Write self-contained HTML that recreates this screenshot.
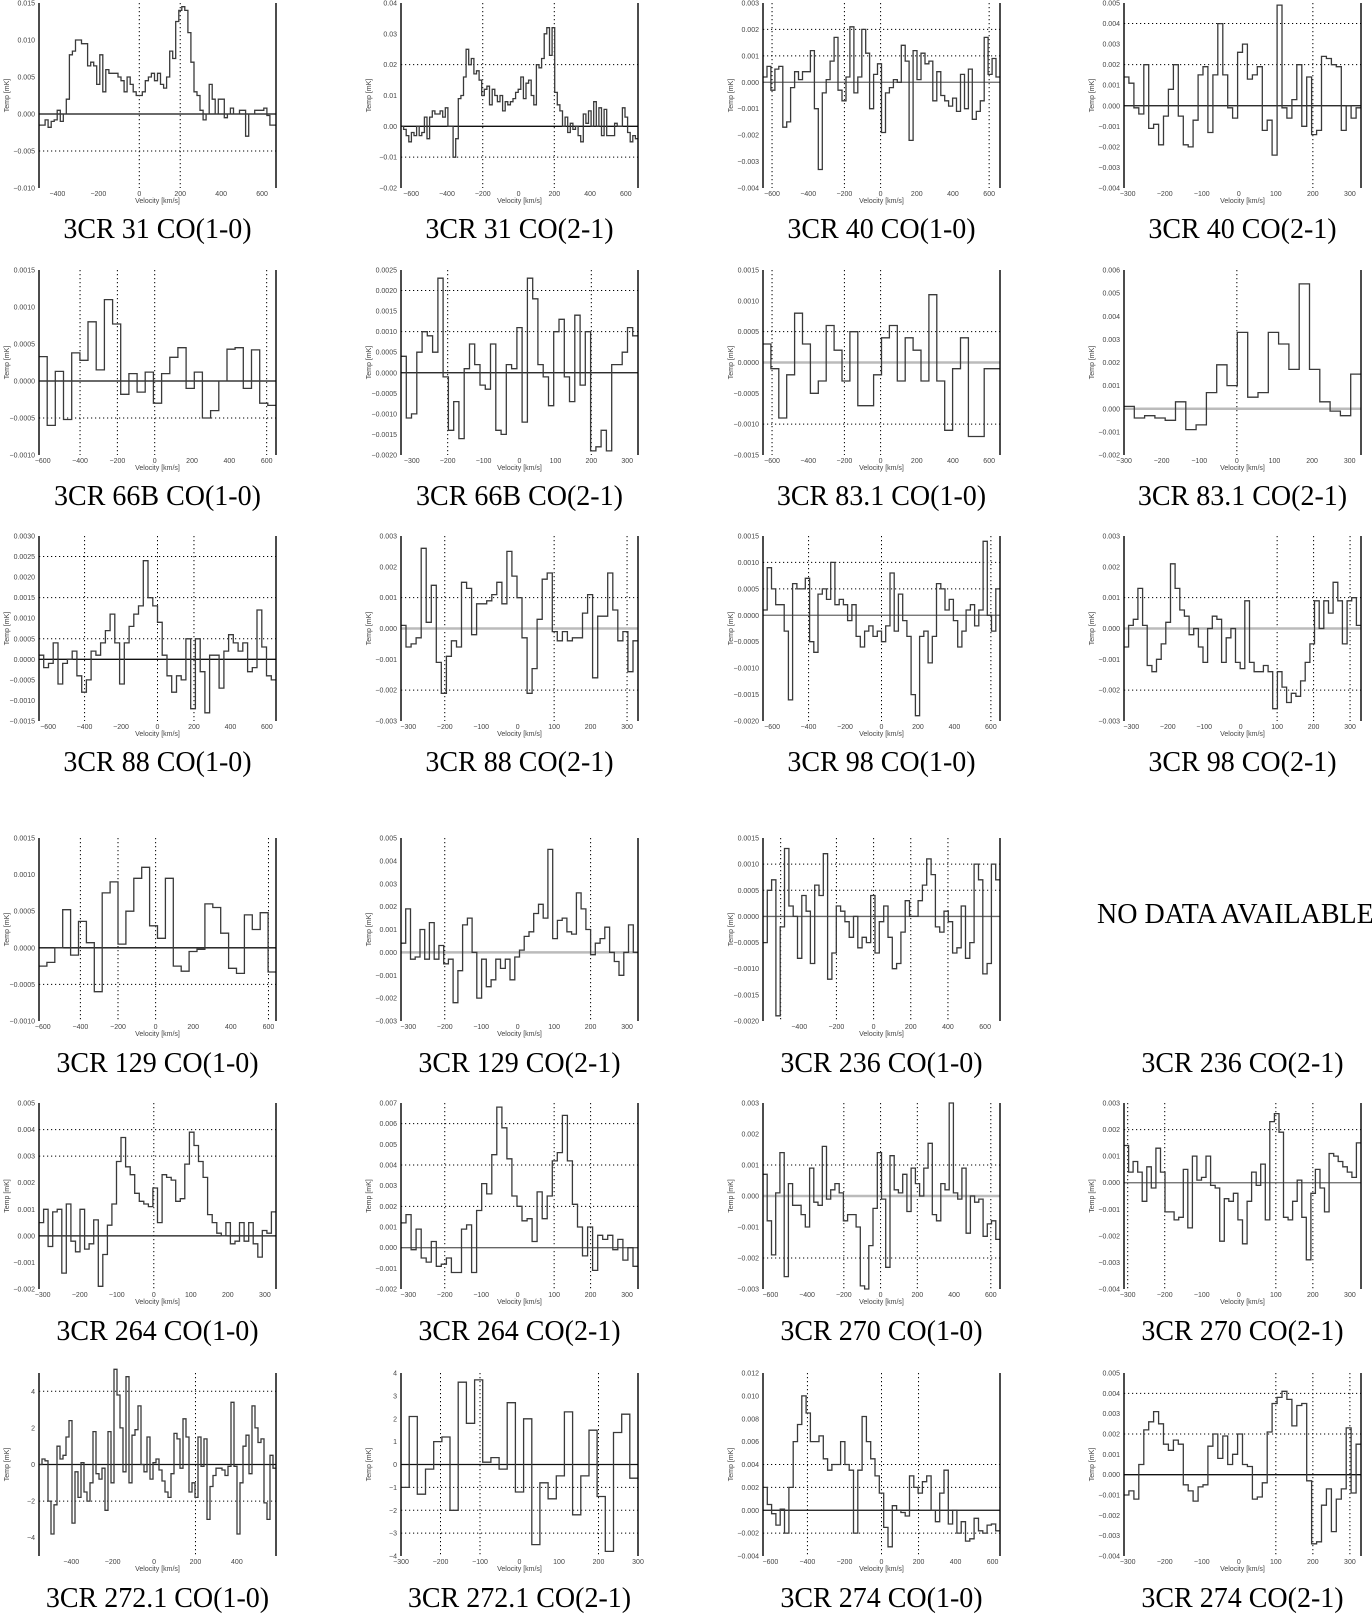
<!DOCTYPE html>
<html><head><meta charset="utf-8">
<style>
html,body{margin:0;padding:0;background:#fff;}
body{width:1372px;height:1613px;position:relative;overflow:hidden;font-family:"Liberation Serif",serif;}
.title{position:absolute;font-family:"Liberation Serif",serif;font-size:28px;color:#000;white-space:nowrap;transform:translate(-50%,-50%);}
svg{position:absolute;left:0;top:0;}
</style></head>
<body>
<svg id="fig" width="1372" height="1613"></svg>
<div style="position:absolute;left:1097px;top:899px;font-size:28px;white-space:nowrap;font-family:'Liberation Serif',serif;">NO DATA AVAILABLE</div>
<script>
const titles=["3CR 31 CO(1-0)","3CR 31 CO(2-1)","3CR 40 CO(1-0)","3CR 40 CO(2-1)","3CR 66B CO(1-0)","3CR 66B CO(2-1)","3CR 83.1 CO(1-0)","3CR 83.1 CO(2-1)","3CR 88 CO(1-0)","3CR 88 CO(2-1)","3CR 98 CO(1-0)","3CR 98 CO(2-1)","3CR 129 CO(1-0)","3CR 129 CO(2-1)","3CR 236 CO(1-0)","3CR 236 CO(2-1)","3CR 264 CO(1-0)","3CR 264 CO(2-1)","3CR 270 CO(1-0)","3CR 270 CO(2-1)","3CR 272.1 CO(1-0)","3CR 272.1 CO(2-1)","3CR 274 CO(1-0)","3CR 274 CO(2-1)"];
const xRanges=[[-490,668],[-657,668],[-650,660],[-310,330],[-620,650],[-330,330],[-650,660],[-300,330],[-650,650],[-320,330],[-650,650],[-320,330],[-620,640],[-320,330],[-595,680],null,[-310,330],[-320,330],[-640,650],[-310,330],[-556,589],[-300,300],[-640,640],[-310,330]];
const yRanges=[[-0.010,0.015],[-0.02,0.04],[-0.004,0.003],[-0.004,0.005],[-0.001,0.0015],[-0.002,0.0025],[-0.0015,0.0015],[-0.002,0.006],[-0.0015,0.003],[-0.003,0.003],[-0.002,0.0015],[-0.003,0.003],[-0.001,0.0015],[-0.003,0.005],[-0.002,0.0015],null,[-0.002,0.005],[-0.002,0.007],[-0.003,0.003],[-0.004,0.003],[-5,5],[-4,4],[-0.004,0.012],[-0.004,0.005]];
const yTickSteps=[0.005,0.01,0.001,0.001,0.0005,0.0005,0.0005,0.001,0.0005,0.001,0.0005,0.001,0.0005,0.001,0.0005,null,0.001,0.001,0.001,0.001,2,1,0.002,0.001];
const yTickDecimals=[3,2,3,3,4,4,4,3,4,3,4,3,4,3,4,0,3,3,3,3,0,0,3,3];
const xTickSteps=[200,200,200,100,200,100,200,100,200,100,200,100,200,100,200,null,100,100,200,100,200,100,200,100];
const hGrids=[[-0.005],[0.02,-0.01],[0.002,0.001],[0.004,0.002],[-0.0005],[0.002,0.001],[0.0005,-0.001],[],[0.0025,0.0015,0.0005],[0.001,-0.002],[0.001,0.0005],[0.001,-0.002],[-0.0005],[],[0.001,0.0005],null,[0.004,0.003],[0.006,0.004,0.002],[0.001,-0.002],[0.002],[4,-2],[-1,-2,-3],[0.004,0.002,-0.002],[0.004,0.002]];
const vGrids=[[0,200],[-200,200],[-600,-200,0,600],[200],[-400,-200,0,600],[-200,200],[-600,-200,0],[0],[-400,0,200],[-200,100,300],[-400,0,600],[100,200,300],[-400,-200,0,600],[-200,200],[-500,-200,0,200,400],null,[0],[-200,100,200],[-200,0,200,600],[-300,-200,100,200],[200],[-200,-100,200],[-400,0,200],[100,200,300]];
const zeroStyles=["k","k","g","k","k","k","lg","lg","k","lg","g","lg","k","lg","g",null,"k","g","lg","g","k","k","k","k"];

const p01=[-0.0015,-0.0015,-0.0008,-0.0018,-0.001,-0.0008,0.0005,-0.001,0.0,0.002,0.008,0.0085,0.010,0.010,0.0095,0.0095,0.0065,0.007,0.0065,0.004,0.008,0.003,0.006,0.0055,0.0055,0.0055,0.005,0.0045,0.003,0.005,0.004,0.003,0.0025,0.0025,0.003,0.0045,0.005,0.0055,0.0045,0.0055,0.004,0.0035,0.005,0.0085,0.0075,0.0125,0.014,0.0145,0.014,0.011,0.007,0.003,0.0025,0.0005,-0.0008,0,0.004,0.002,0,0.002,0.002,-0.0005,0,0.0008,0,0,0.0005,0.0005,-0.003,0,0,0.0005,0.0005,0.0005,0.0008,-0.0002,-0.0015,-0.0015];
const p02=[0,-0.001,-0.003,-0.005,-0.002,-0.003,0,-0.003,-0.002,0.003,-0.004,0.003,0.005,0.004,0.004,0.005,0.003,0.006,0,0,-0.01,-0.004,0.009,0.010,0.016,0.025,0.02,0.022,0.017,0.018,0.015,0.01,0.012,0.013,0.007,0.012,0.01,0.008,0.01,0.005,0.008,0.007,0.008,0.009,0.011,0.012,0.016,0.009,0.014,0.015,0.01,0.007,0.02,0.019,0.022,0.03,0.032,0.023,0.032,0.011,0.007,0.005,0,0.003,-0.002,0.001,-0.001,0,-0.003,-0.005,0.004,0.001,0.005,0,0.008,0,0.006,-0.003,0.0055,-0.003,-0.003,-0.003,0.001,0,0,0.006,0.003,-0.002,-0.005,-0.003,-0.004];
const p03=[0.0002,0.0006,-0.0003,0.0005,0.0006,-0.0017,-0.0015,-0.0002,0.0004,0.0001,0.0004,0.0004,0.0012,-0.001,-0.0033,-0.0004,0.0001,0.0008,0.0017,-0.0003,-0.0007,0.0002,0.0021,-0.0004,0.0002,0.002,0.0011,-0.001,0.0003,0.0007,-0.0019,-0.0004,-0.0002,0.0001,0,0.0014,0.0008,-0.0022,0.0012,0.0001,0.0011,0.0007,0.0008,-0.0007,0.0004,-0.0005,-0.0007,-0.0009,-0.0006,-0.0011,0.0003,-0.001,0.0005,-0.0014,-0.0011,-0.0007,0.0017,0.0003,0.0009,0.0002];
const p04=[0.0014,0.0011,-0.0001,-0.0004,0.002,-0.0011,-0.0009,-0.0019,-0.0005,0.0008,0.002,-0.0005,-0.0019,-0.002,-0.0007,0.0015,0.0019,-0.0013,0.0015,0.004,0.0015,-0.0001,-0.0006,0.0026,0.003,0.0013,0.0015,0.0019,-0.0012,-0.0007,-0.0024,0.0049,-0.0001,-0.0006,0.0003,0.002,-0.001,0.0014,-0.0014,-0.0012,0.0024,0.0023,0.002,0.0019,-0.0012,0,-0.0006,-0.0001];
const p05=[0.00033,-0.0006,0.00013,-0.00052,0.00038,0.00028,0.0008,0.00015,0.0011,0.00077,-0.00018,0.0001,-0.00015,0.00012,-0.0003,0.0001,0.00032,0.00045,-0.0001,0.00012,-0.0005,-0.0004,0,0.00043,0.00045,-0.0001,0.00042,-0.0003,-0.00033];
const p06=[0.0004,-0.0011,-0.001,0.0005,0.001,0.0009,0.0005,0.0023,-0.0001,-0.0014,-0.0007,-0.0016,0.0001,0.0007,0.0002,-0.0003,-0.0004,0.0007,-0.0014,-0.0015,0.0002,0.0001,0.0011,-0.0012,0.0023,0.0018,0.0002,-0.0001,-0.0008,0.001,0.0013,-0.0001,-0.0007,0.0014,-0.0003,0.001,-0.0019,-0.0018,-0.0014,-0.0019,0.0002,0.0002,0.0005,0.0011,0.0009];
const p07=[0.0003,-0.0001,-0.0009,-0.0002,0.0008,0.0003,-0.0005,-0.0003,0.0006,0.0002,-0.0003,0.0005,-0.0007,-0.0007,-0.0002,0.0004,0.0006,-0.0003,0.0004,0.0002,-0.0003,0.0011,-0.0003,-0.0011,-0.0001,0.0004,-0.0012,-0.0012,-0.0001,-0.0001];
const p08=[0.0001,-0.0004,-0.0003,-0.0004,-0.0005,0.0003,-0.0009,-0.0007,0.0007,0.0019,0.0010,0.0033,0.0005,0.0007,0.0033,0.0028,0.0017,0.0054,0.0017,0.0003,-0.0001,-0.0003,0.0015];
const p09=[0.0001,-0.0002,-0.0001,0.0004,-0.0006,-0.0001,0,0.0002,-0.0004,-0.0008,-0.0005,0.0002,0.0001,0.0004,0.0007,0.0011,0.0004,-0.0006,0.0004,0.0008,0.0011,0.0013,0.0024,0.0015,0.0013,0.0009,0.0001,-0.0004,-0.0008,-0.0004,-0.0005,0.0005,-0.0012,0.0005,-0.0003,-0.0013,0.0001,0.0001,-0.0007,0.0002,0.0006,0.0004,0.0002,0.0004,-0.0003,-0.0002,0.0012,0.0003,-0.0004,-0.0005];
const p10=[0.0001,-0.0006,-0.0005,-0.0003,0.0026,0.0002,0.0014,-0.0011,-0.0021,-0.0009,-0.0004,-0.0006,0.0015,0.0013,-0.0002,0.0008,0.0008,0.0009,0.0011,0.0015,0.0008,0.0025,0.0017,0.001,-0.0003,-0.0021,-0.0013,0.0003,0.0016,0.0018,-0.0001,-0.0004,-0.0001,-0.0004,-0.0003,-0.0003,0.0005,0.0011,-0.0016,0.0004,0.0004,0.0018,0.0006,-0.0004,-0.0001,-0.0014,-0.0004];
const p11=[0.0001,0.0009,0.0005,0.0002,0.0002,-0.0003,-0.0016,0.0006,0.0005,0.0005,0.0007,-0.0005,-0.0007,0.0004,0.0005,0.0003,0.0010,0.0002,0.0003,0.0002,-0.0001,0.0002,-0.0004,-0.0006,-0.0003,-0.0002,-0.0004,-0.0003,-0.0005,-0.0002,0.0008,-0.0003,0.0004,-0.0001,-0.0004,-0.0015,-0.0019,-0.0004,-0.0003,-0.0009,-0.0004,0.0006,0.0005,0.0001,0.0003,-0.0001,-0.0006,-0.0003,0.0001,0.0002,-0.0002,0.0001,0.0014,0,-0.0003,0.0005];
const p12=[-0.0006,0.0001,0.0003,0.0013,0.0001,-0.0012,-0.0014,-0.001,-0.0005,0.0002,0.0021,0.0013,0.0006,0.0004,-0.0002,0,-0.0006,-0.0011,0,0.0004,0.0003,-0.0011,-0.0003,0,-0.0011,-0.0013,0.0009,-0.0011,-0.0014,-0.0014,-0.0012,-0.0014,-0.0026,-0.0014,-0.0019,-0.0024,-0.0021,-0.0022,-0.0017,-0.0011,-0.0005,0.0009,0,0.0009,0.0005,0.0015,0.0009,-0.0005,0.0009,0.0010,0.0001];
const p13=[-0.00025,-0.0002,0,0.00052,-0.0001,0.00036,0.00007,-0.0006,0.00075,0.0009,0.00005,0.0005,0.00095,0.0011,0.0003,0.00013,0.00095,-0.00025,-0.00032,-0.00005,-0.00002,0.0006,0.00055,0.0002,-0.00028,-0.00035,0.00045,0.00025,0.00048,-0.00033];
const p14=[0.0004,0.0019,-0.0003,-0.0002,0.001,-0.0003,0.0013,-0.0003,0.0003,-0.0005,-0.0003,-0.0022,-0.0008,0.0012,0.0015,0,-0.002,-0.0003,-0.0015,-0.0012,-0.0003,-0.0007,-0.0003,-0.0012,-0.0002,0.0001,0.0007,0.0009,0.0017,0.0021,0.0015,0.0045,0.0006,0.0014,0.0015,0.0009,0.0008,0.0026,0.0019,0.001,-0.0001,0.0004,0.0006,0.0011,0,-0.0004,-0.001,0,0.0012,0];
const p15=[-0.0005,0.0005,0.0007,-0.0019,-0.0002,0.0013,0.0002,0,-0.0008,0.0004,0.0001,-0.0009,0.0006,0.0004,0.0012,-0.0012,-0.0007,0.0002,0.0001,-0.0001,-0.0004,0,-0.0006,-0.0004,-0.0005,0.0004,-0.0007,-0.0001,0.0002,-0.0004,-0.001,-0.0009,-0.0003,0.0003,0,0,0.0003,0.0006,0.0011,0.0008,-0.0002,-0.0003,0.0001,-0.0001,-0.0007,-0.0006,0.0002,-0.0008,-0.0005,0.001,0.0007,-0.0011,-0.0009,0.001,0.0007];
const p16=[];
const p17=[0.0005,0.001,-0.0004,0.0009,0.001,-0.0014,0.0012,-0.0002,-0.0006,0.001,-0.0005,-0.0003,0.0006,-0.0019,-0.0007,0.0004,0.0012,0.0028,0.0037,0.0026,0.0023,0.0016,0.0013,0.0012,0.0011,0.0018,0.0005,0.0023,0.0022,0.0021,0.0013,0.0014,0.0027,0.0039,0.0034,0.0028,0.0022,0.0008,0.0005,0.0001,0,0.0005,-0.0003,-0.0002,0.0005,-0.0002,0.0005,-0.0003,-0.0008,0.0002,0.0001,0.0009];
const p18=[0.0012,0.0016,-0.0001,0.0009,-0.0005,-0.0007,0.0003,-0.0009,-0.0008,-0.0005,-0.0012,-0.0012,0.0009,0.0011,-0.0012,0.0018,0.0031,0.0026,0.0045,0.0068,0.0058,0.0043,0.0025,0.002,0.0013,0.0014,0.0003,0.0027,0.0014,0.0025,0.0042,0.0046,0.0064,0.0042,0.0021,0.001,-0.0004,0.001,-0.0011,0.0006,0.0004,0.0006,-0.0001,0.0004,-0.0006,0,-0.0009];
const p19=[0.0007,-0.0008,-0.0019,0.0001,0.0014,-0.0026,0.0004,-0.0003,-0.0003,-0.0006,-0.001,0.0009,-0.0002,-0.0003,0.0016,-0.0001,0.0002,0.0004,0.0001,-0.0008,-0.0006,-0.0006,-0.0010,-0.0029,-0.0030,-0.0016,-0.0004,0.0014,-0.0001,-0.0023,0.0013,0.0002,0.0001,0.0007,-0.0005,0.0009,0.0004,0,0.0009,0.0017,-0.0006,-0.0008,0.0004,0.0002,0.003,0.0001,-0.0001,0.0009,-0.0012,0,-0.0002,-0.0001,-0.0013,-0.0009,-0.0008,-0.0014];
const p20=[0.0014,0.0004,0.0008,0.0004,-0.0007,0.0006,-0.0002,0.0013,0.0004,-0.0011,-0.0011,-0.0014,-0.0013,0.0005,-0.0017,0.001,0.0001,0.0002,0.001,-0.0001,-0.0002,-0.0022,-0.0006,-0.0007,-0.0004,-0.0014,-0.0023,-0.0007,0.0004,-0.0001,0.0007,-0.0014,0.0023,0.0026,0.0019,-0.0013,-0.0014,-0.0007,0.0001,-0.0013,-0.0029,-0.0004,0.0005,-0.0002,-0.0011,0.0011,0.001,0.0008,0.0006,0.0004,0.0002,0.0015];
const p21=[0,0.3,0.2,-2,-3.8,-2.2,1,0.3,0.5,1.5,2.4,-3.2,-0.4,-1.8,0.1,-1.5,-2,-1,1.8,-0.5,-0.8,-0.2,-2.5,1.8,-1,5.2,3.8,2,-0.4,4.8,-1,1.6,1.9,3.2,0,-0.4,1.5,-0.8,0.1,0.3,-0.3,-0.9,-1.5,-1.8,-0.5,1.7,1.4,-0.2,2.5,1.5,-1.5,-1,-1.8,1.5,-0.1,1.4,-3,-1.2,-0.6,-0.2,-0.2,-0.3,-0.6,-0.1,3.4,-0.1,-3.8,-1,1,1.6,-0.5,3.2,2,1.2,1.4,-2.1,-3,0.5,-0.2];
const p22=[-1,2.1,-1.3,-0.2,1,1.2,-2,3.6,1.8,3.7,0.1,0.3,-0.2,2.7,-1.2,2,-3.5,-0.8,-1.5,-0.5,2.3,-2.2,-0.5,1.5,-1.4,-3.8,1.4,2.2,-0.6];
const p23=[0.002,0.0005,-0.0003,-0.0013,0.0001,-0.002,0.002,0.006,0.0075,0.010,0.0085,0.006,0.006,0.0065,0.0045,0.0035,0.004,0.004,0.006,0.004,0.0035,-0.002,0.0035,0.0082,0.006,0.0045,0.003,0.0015,-0.0015,-0.0032,0.0004,0,-0.0002,-0.0005,0.003,0.002,0.0015,0.0025,0.003,0,-0.001,0.0015,0.0035,-0.0012,0,-0.002,-0.001,-0.0027,-0.0025,-0.0007,-0.0018,-0.002,-0.0013,-0.0012,-0.0018];
const p24=[-0.001,-0.0008,-0.0012,0.0005,0.0022,0.0026,0.0031,0.0025,0.0015,0.0012,0.0017,0.0015,-0.0005,-0.0008,-0.0013,-0.0006,-0.0005,0.0014,0.002,0.0008,0.0019,0.0005,0.001,0.002,0.0005,0.0004,-0.0012,-0.0011,-0.0004,0.0021,0.0035,0.0038,0.0041,0.0037,0.0024,0.0034,0.0035,-0.0003,-0.0034,-0.0033,-0.0015,-0.0007,-0.0028,-0.0012,-0.0007,0.0023,-0.0009,0.0015];
const seriesValues=[p01,p02,p03,p04,p05,p06,p07,p08,p09,p10,p11,p12,p13,p14,p15,p16,p17,p18,p19,p20,p21,p22,p23,p24];

const NS="http://www.w3.org/2000/svg";
const fig=document.getElementById('fig');
const colLeft=[39,401,763,1124], plotW=237;
const rowTB=[[3,188],[270,455],[536,721],[838,1021],[1103,1289],[1373,1556]];
const titleY=[230,497,763,1064,1332,1599];
function mk(tag,attrs,parent){const e=document.createElementNS(NS,tag);for(const k in attrs)e.setAttribute(k,attrs[k]);(parent||fig).appendChild(e);return e;}
function fmt(v,d){let s=Math.abs(v)<1e-12?(0).toFixed(d):v.toFixed(d);return s.replace('-','\u2212');}

for(let i=0;i<24;i++){
  const c=i%4,r=Math.floor(i/4);
  const L=colLeft[c],R=L+plotW,T=rowTB[r][0],B=rowTB[r][1];
  const t=document.createElement('div');t.className='title';
  t.style.left=(L+R)/2+'px';t.style.top=titleY[r]+'px';t.textContent=titles[i];
  
  
  document.body.appendChild(t);
  if(!xRanges[i])continue;
  const g=mk('g',{});
  
  
  const [x0,x1]=xRanges[i],[y0,y1]=yRanges[i];
  const sx=v=>L+(v-x0)/(x1-x0)*plotW;
  const sy=v=>B-(v-y0)/(y1-y0)*(B-T);
  hGrids[i].forEach(v=>{const l=mk('line',{x1:L,x2:R,y1:sy(v),y2:sy(v),stroke:'#000','stroke-width':1,'stroke-dasharray':'1.2,2.8'},g);
    });
  vGrids[i].forEach(v=>{const l=mk('line',{x1:sx(v),x2:sx(v),y1:T,y2:B,stroke:'#000','stroke-width':1,'stroke-dasharray':'1.2,2.8'},g);
    });
  const zs=zeroStyles[i];
  const zl=mk('line',{x1:L,x2:R,y1:sy(0),y2:sy(0),stroke:zs==='k'?'#111':(zs==='g'?'#666':'#bbb'),'stroke-width':zs==='lg'?2.5:1.3},g);
  
  const vals=seriesValues[i],n=vals.length,bw=(x1-x0)/n;
  let d='';
  vals.forEach((v,k)=>{const xa=sx(x0+k*bw),xb=sx(x0+(k+1)*bw),y=sy(v);d+=(k===0?'M':'L')+xa.toFixed(1)+','+y.toFixed(1)+'L'+xb.toFixed(1)+','+y.toFixed(1);});
  const p=mk('path',{d:d,fill:'none',stroke:'#3a3a3a','stroke-width':1.3},g);
  
  [L,R].forEach(x=>{const a=mk('line',{x1:x,x2:x,y1:T,y2:B,stroke:'#000','stroke-width':1.4},g);
    });
  const ys=yTickSteps[i];
  for(let v=Math.ceil(y0/ys-1e-9)*ys;v<=y1+1e-9;v+=ys){
    const tx=mk('text',{x:L-4,y:sy(v)+2.5,'font-size':7,'text-anchor':'end',fill:'#444','font-family':'Liberation Sans, sans-serif'},g);
    tx.textContent=fmt(v,yTickDecimals[i]);
    
  }
  const xs=xTickSteps[i];
  for(let v=Math.ceil(x0/xs)*xs;v<=x1;v+=xs){
    const tx=mk('text',{x:sx(v),y:B+8,'font-size':7,'text-anchor':'middle',fill:'#444','font-family':'Liberation Sans, sans-serif'},g);
    tx.textContent=fmt(v,0);
    
  }
  const xl=mk('text',{x:(L+R)/2,y:B+15,'font-size':7,'text-anchor':'middle',fill:'#444','font-family':'Liberation Sans, sans-serif'},g);
  xl.textContent='Velocity [km/s]';
  
  const yl=mk('text',{x:0,y:0,'font-size':7,'text-anchor':'middle',fill:'#444','font-family':'Liberation Sans, sans-serif',transform:`translate(${L-30},${(T+B)/2}) rotate(-90)`},g);
  yl.textContent='Temp [mK]';
  
}
</script>
</body></html>
